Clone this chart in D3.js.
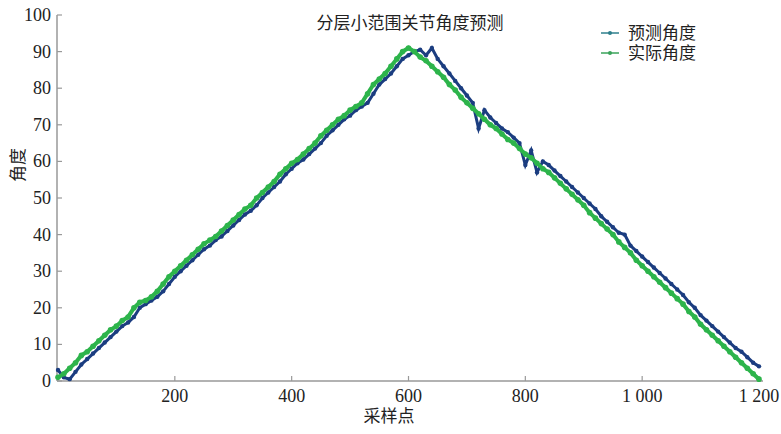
<!DOCTYPE html>
<html>
<head>
<meta charset="utf-8">
<script src="https://cdn.jsdelivr.net/npm/d3@7"></script>
<style>
  body { margin: 0; background: #fff; }
  svg text { font-family: "Liberation Serif", "Noto Sans CJK SC", serif; fill: #222; }
</style>
</head>
<body>
<div id="chart"></div>
<script>
// sample index, every 10 samples
const samples = d3.range(0, 1201, 10);

// 实际角度 (green)
const actual = [
  1, 2, 3.5, 5, 7, 8, 9.5, 11, 12.5, 14,
  15, 16.5, 17.5, 20, 21.5, 22, 23, 24.5, 26.5, 28.5,
  30, 31.5, 33, 34.5, 36, 37.5, 38.5, 39.5, 41, 42.5,
  44, 45.5, 47, 48, 50, 51.5, 53, 54.5, 56.5, 58,
  59.5, 60.5, 62, 63.5, 65, 67, 68.5, 70, 71.5, 72.5,
  74, 75, 76, 78.5, 81, 82.5, 84, 86, 88, 90,
  91, 90, 88.5, 87.5, 86, 84.5, 83, 81, 79.5, 77.5,
  76, 74.5, 73, 71.5, 70, 69, 67.5, 66, 65, 63.5,
  62, 61, 59.5, 58, 57, 55.5, 54, 52.5, 51, 49.5,
  48, 46, 44.5, 43, 41.5, 40, 38, 36.5, 35, 33,
  31.5, 30, 28.5, 27, 25.5, 24, 22.5, 21, 19, 17.5,
  15.5, 14, 12.5, 11, 9.5, 8, 6.5, 5, 3.5, 2,
  0.5
];

// 预测角度 (blue)
const predicted = [
  3, 1, 0.5, 2.5, 4.5, 6, 7.5, 9, 10.5, 12,
  13.5, 15, 16, 17.5, 20, 21, 22, 23, 24.5, 26.5,
  28.5, 30, 31.5, 33, 34.5, 36, 37, 38.5, 39.5, 41,
  42.5, 44, 45.5, 46.5, 48, 50, 51.5, 53, 54.5, 56.5,
  58, 59.5, 60.5, 62, 63.5, 65, 67, 68.5, 70, 71.5,
  72.5, 74, 75, 76, 78.5, 81, 82.5, 84, 86, 88,
  89, 90, 90.5, 89, 91, 88, 86, 84, 82, 80,
  78, 76, 69, 74, 72, 70.5, 69, 68, 66.5, 65,
  59, 63, 57, 60, 59, 57.5, 56, 54.5, 53, 51.5,
  50, 48.5, 47, 45, 43.5, 42, 40.5, 40, 37, 35.5,
  34, 32.5, 31, 29.5, 28, 26.5, 25, 23.5, 21.5, 20,
  18, 16.5, 15, 13.5, 12, 10.5, 9, 8, 6.5, 5,
  4
];

const xTicks = [200, 400, 600, 800, 1000, 1200];
const yTicks = [0, 10, 20, 30, 40, 50, 60, 70, 80, 90, 100];
const seriesNames = ["预测角度", "实际角度"];

const W = 781, H = 434;
const blue = "#1b3d80", green = "#2db44b";

const svg = d3.select("#chart").append("svg")
  .attr("width", W)
  .attr("height", H);

const x = d3.scaleLinear().domain([0, 1200]).range([58, 759]);
const y = d3.scaleLinear().domain([0, 100]).range([381, 15]);

// axes
svg.append("line")
  .attr("x1", 57).attr("x2", 57)
  .attr("y1", y(100)).attr("y2", y(0))
  .style("stroke", "#999").style("stroke-width", 1.5);
svg.append("line")
  .attr("x1", 57).attr("x2", 763)
  .attr("y1", y(0)).attr("y2", y(0))
  .style("stroke", "#999").style("stroke-width", 1.5);

svg.selectAll("line.ytick")
  .data(yTicks)
  .enter().append("line")
  .attr("class", "ytick")
  .attr("x1", 57).attr("x2", 62)
  .attr("y1", d => y(d)).attr("y2", d => y(d))
  .style("stroke", "#999").style("stroke-width", 1.2);

svg.selectAll("text.ylab")
  .data(yTicks)
  .enter().append("text")
  .attr("class", "ylab")
  .attr("x", 51)
  .attr("y", d => y(d) + 6)
  .attr("text-anchor", "end")
  .style("font-size", "18px")
  .text(d => d);

svg.selectAll("line.xtick")
  .data(xTicks)
  .enter().append("line")
  .attr("class", "xtick")
  .attr("x1", d => x(d)).attr("x2", d => x(d))
  .attr("y1", y(0)).attr("y2", y(0) - 5)
  .style("stroke", "#999").style("stroke-width", 1.2);

svg.selectAll("text.xlab")
  .data(xTicks)
  .enter().append("text")
  .attr("class", "xlab")
  .attr("x", d => x(d))
  .attr("y", 402)
  .attr("text-anchor", "middle")
  .style("font-size", "18px")
  .text(d => d >= 1000 ? d3.format(",")(d).replace(",", " ") : d);

// axis titles
svg.append("text")
  .attr("x", 389).attr("y", 422)
  .attr("text-anchor", "middle")
  .style("font-size", "17px")
  .text("采样点");

svg.append("text")
  .attr("transform", `translate(24,165) rotate(-90)`)
  .attr("text-anchor", "middle")
  .style("font-size", "17px")
  .text("角度");

// title
svg.append("text")
  .attr("x", 410).attr("y", 29)
  .attr("text-anchor", "middle")
  .style("font-size", "17px")
  .text("分层小范围关节角度预测");

const line = d3.line()
  .x((d, i) => x(samples[i]))
  .y(d => y(d));

// predicted
svg.append("path")
  .datum(predicted)
  .attr("d", line)
  .style("fill", "none")
  .style("stroke", blue)
  .style("stroke-width", 3);
svg.selectAll("circle.pred")
  .data(predicted)
  .enter().append("circle")
  .attr("class", "pred")
  .attr("cx", (d, i) => x(samples[i]))
  .attr("cy", d => y(d))
  .attr("r", 2.2)
  .style("fill", blue);

// actual
svg.append("path")
  .datum(actual)
  .attr("d", line)
  .style("fill", "none")
  .style("stroke", green)
  .style("stroke-width", 4);
svg.selectAll("circle.act")
  .data(actual)
  .enter().append("circle")
  .attr("class", "act")
  .attr("cx", (d, i) => x(samples[i]))
  .attr("cy", d => y(d))
  .attr("r", 2.8)
  .style("fill", green);

// legend
const legendColors = ["#2e7f8c", "#3aa35a"];
const legend = svg.selectAll("g.legend")
  .data(seriesNames)
  .enter().append("g")
  .attr("class", "legend")
  .attr("transform", (d, i) => `translate(601,${33 + i * 20})`);
legend.append("line")
  .attr("x1", 0).attr("x2", 18)
  .attr("y1", 0).attr("y2", 0)
  .style("stroke", (d, i) => legendColors[i])
  .style("stroke-width", 1.5);
legend.append("circle")
  .attr("cx", 9).attr("cy", 0).attr("r", 2)
  .style("fill", (d, i) => legendColors[i]);
legend.append("text")
  .attr("x", 27).attr("y", 6)
  .style("font-size", "17px")
  .text(d => d);
</script>
</body>
</html>
